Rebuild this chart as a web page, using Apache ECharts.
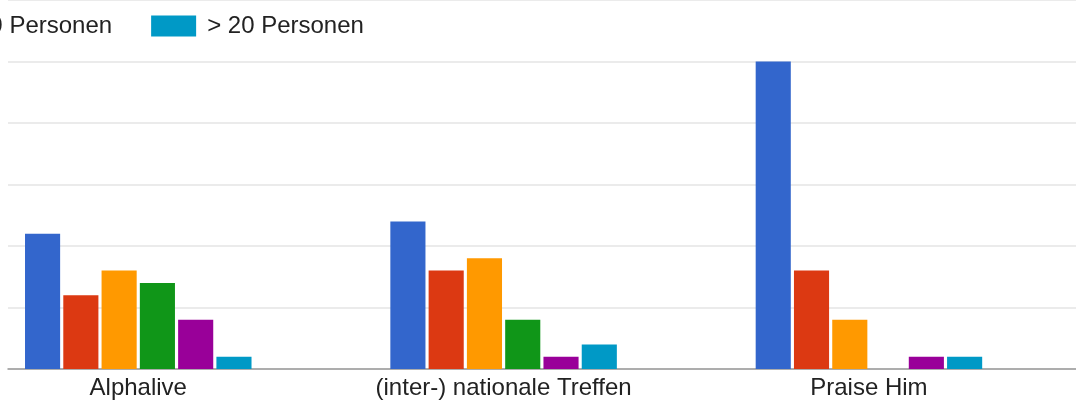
<!DOCTYPE html>
<html>
<head>
<meta charset="utf-8">
<script src="https://cdn.jsdelivr.net/npm/echarts@6/dist/echarts.min.js"></script>
<style>
  html, body { margin: 0; padding: 0; background: #fff; overflow: hidden; }
  /* Ausschnitt: das Diagramm beginnt links außerhalb des Bildes */
  #chart { width: 1121px; height: 414px; margin-left: -45px; }
</style>
</head>
<body>
<div id="chart"></div>
<script>
// Kategorien und Gruppengrößen
const categories = ['Alphalive', '(inter-) nationale Treffen', 'Praise Him']
const seriesNames = ['1 Person', '2 - 5 Personen', '6 - 10 Personen', '11 - 15 Personen', '16 - 20 Personen', '> 20 Personen']
const colors = ['#3366cc', '#dc3912', '#ff9900', '#109618', '#990099', '#0099c6']

const s1 = [11, 12, 25]
const s2 = [6, 8, 8]
const s3 = [8, 9, 4]
const s4 = [7, 4, 0]
const s5 = [4, 1, 1]
const s6 = [1, 2, 1]
const values = [s1, s2, s3, s4, s5, s6]

const yMax = 30
const yStep = 5

const font = 'Liberation Sans, Arial, sans-serif'

const chart = echarts.init(document.getElementById('chart'))

const series = seriesNames.map((name, i) => ({
  name: name,
  type: 'bar',
  xAxisIndex: 0,
  yAxisIndex: 0,
  data: values[i],
  itemStyle: { color: colors[i] },
  barGap: '9%',
  barCategoryGap: '38%'
}))

const option = {
  animation: false,
  color: colors,
  legend: {
    // nur die letzten beiden Einträge sind im Ausschnitt zu sehen
    data: [seriesNames[4], seriesNames[5]],
    left: -88,
    top: 9,
    itemWidth: 45,
    itemHeight: 21,
    itemGap: 39,
    icon: 'rect',
    textStyle: {
      fontFamily: font,
      fontSize: 24,
      color: '#222',
      padding: [0, 0, 0, 6]
    }
  },
  grid: [
    { left: 0.6, width: 1096, top: 0, height: 369 }, // Balken
    { left: 53, right: 0, top: 0, height: 369 } // Gitterlinien
  ],
  xAxis: [
    {
      type: 'category',
      gridIndex: 0,
      data: categories,
      axisLine: { show: false },
      axisTick: { show: false },
      axisLabel: {
        fontFamily: font,
        fontSize: 24,
        color: '#222',
        margin: 7
      }
    },
    {
      type: 'value',
      gridIndex: 1,
      min: 0,
      max: 1,
      axisLine: { show: true, lineStyle: { color: '#999', width: 1.5 } },
      axisTick: { show: false },
      axisLabel: { show: false },
      splitLine: { show: false }
    }
  ],
  yAxis: [
    {
      type: 'value',
      gridIndex: 0,
      min: 0,
      max: yMax,
      interval: yStep,
      show: false
    },
    {
      type: 'value',
      gridIndex: 1,
      min: 0,
      max: yMax,
      interval: yStep,
      axisLine: { show: false },
      axisTick: { show: false },
      axisLabel: { show: false },
      splitLine: { lineStyle: { color: '#ebebeb', width: 2 } }
    }
  ],
  series: series
}

chart.setOption(option)
</script>
</body>
</html>
